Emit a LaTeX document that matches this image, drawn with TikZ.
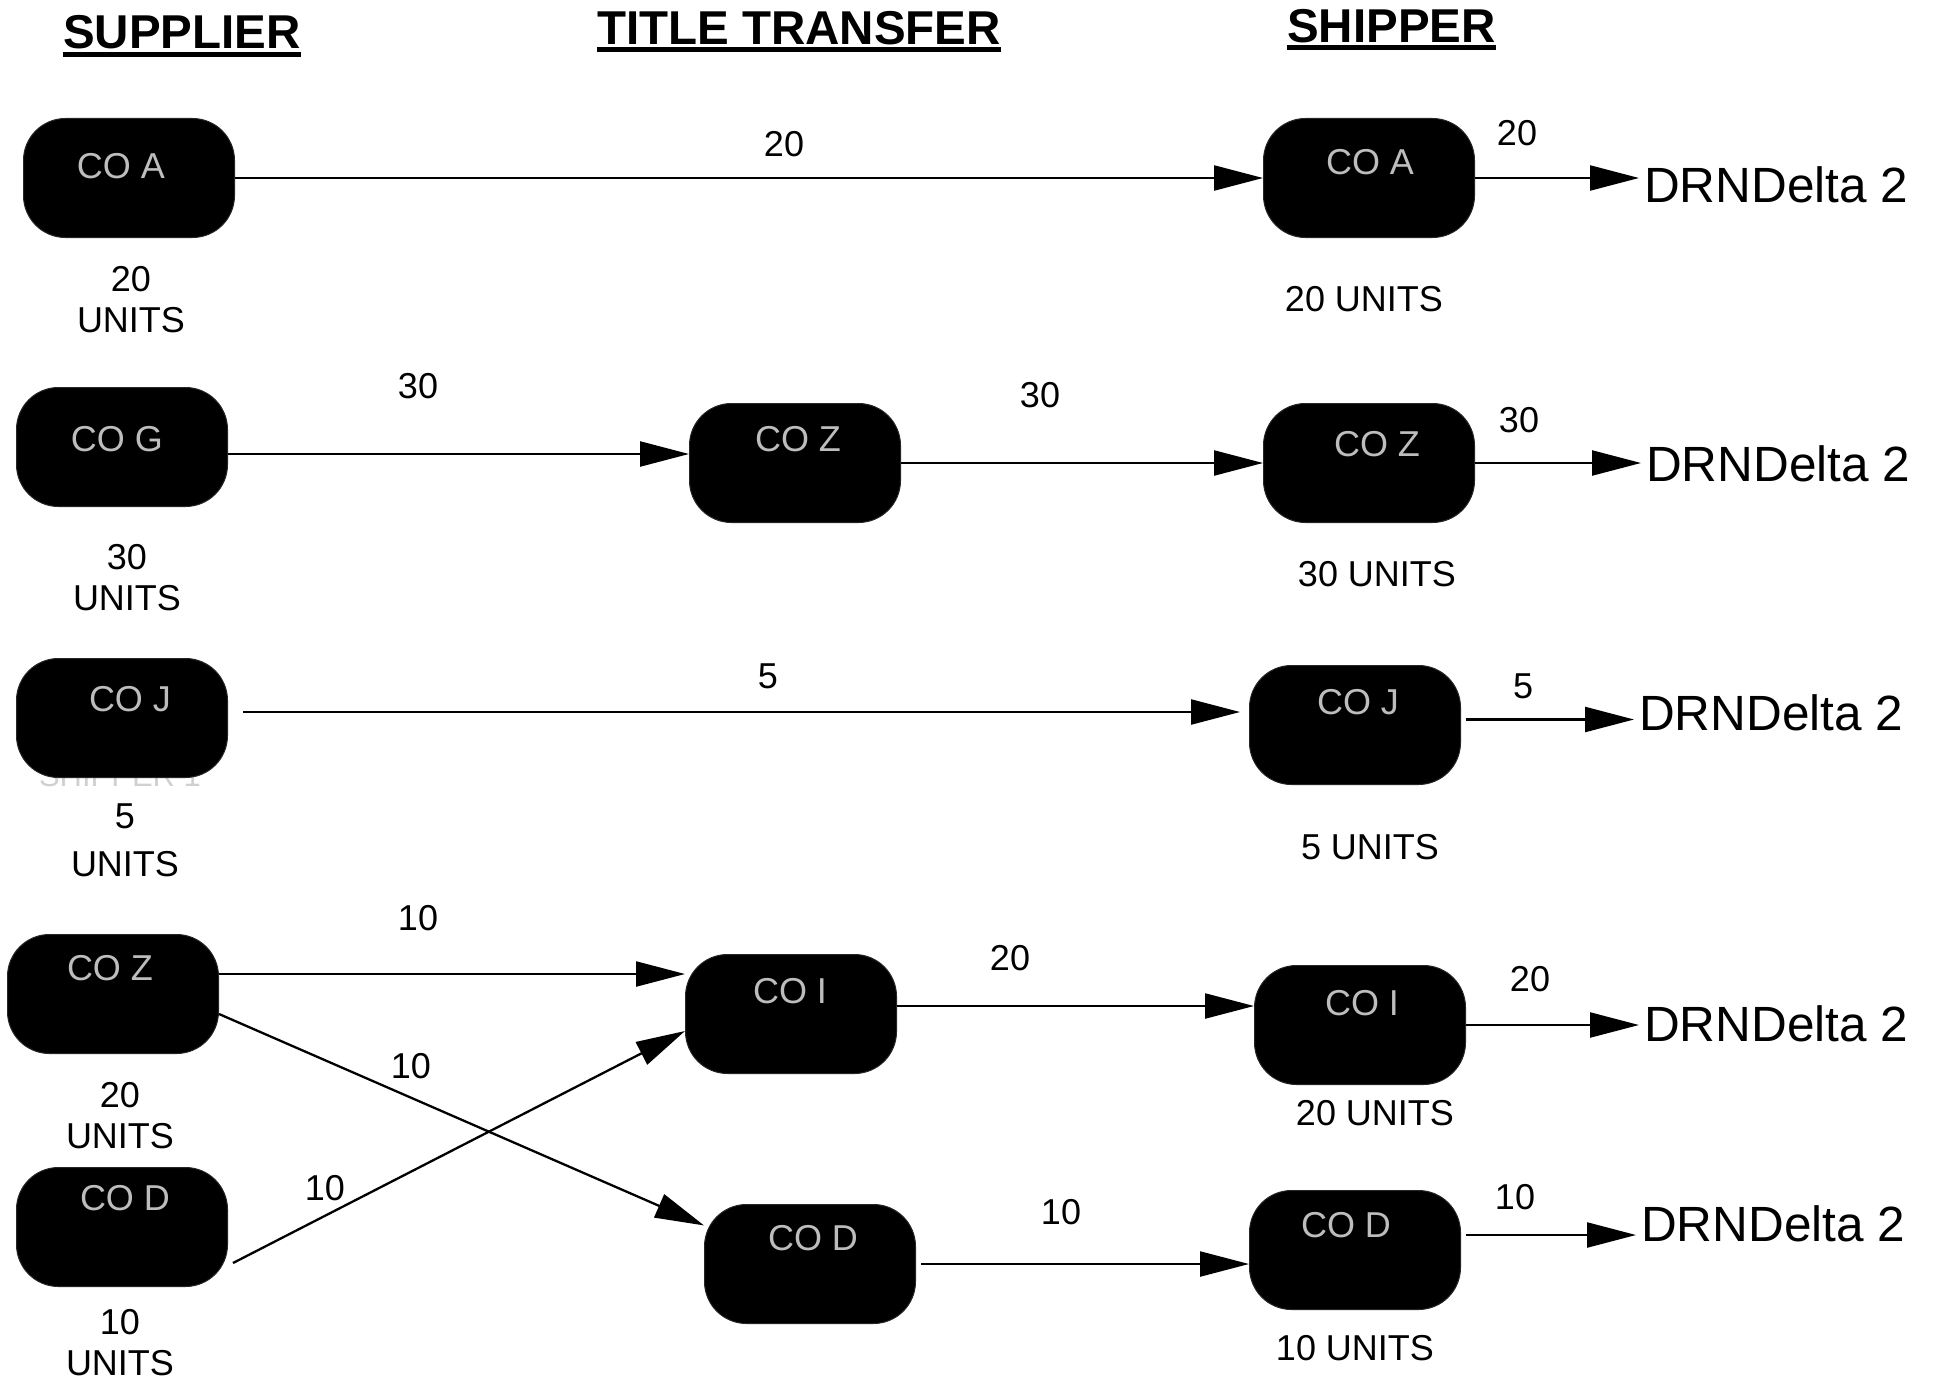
\documentclass[tikz,border=0pt]{standalone}
\usepackage{fontspec}
\setmainfont{Liberation Sans}
\usetikzlibrary{arrows.meta}
\definecolor{BoxText}{HTML}{BDBDBD}
\definecolor{Ghost}{HTML}{D0D0D0}

\begin{document}
\begin{tikzpicture}[x=1pt,y=-1pt,
  cobox/.style={rounded corners=42pt,fill=black,draw=black!85,line width=1pt,
   minimum width=211pt,minimum height=119pt,inner sep=0pt},
  cotext/.style={text=BoxText,inner sep=0pt,font=\fontsize{36}{41}\selectfont},
  qty/.style={inner sep=0pt,font=\fontsize{36}{41}\selectfont},
  units/.style={inner sep=0pt,align=center,font=\fontsize{36}{41}\selectfont},
  drn/.style={anchor=west,inner xsep=5pt,inner ysep=0pt,font=\fontsize{49.5}{59}\selectfont},
  head/.style={anchor=base west,inner sep=0pt,font=\fontsize{47.5}{57}\selectfont\bfseries},
  uline/.style={line width=5pt},
  flow/.style={line width=2.3pt,-{Triangle[length=49pt,width=25pt]}}]
  \useasboundingbox (0,0) rectangle (1935,1378);

  % column headings
  \node[head] (hSup) at (63,49) {SUPPLIER};
  \node[head] (hTit) at (597,45) {TITLE TRANSFER};
  \node[head] (hShp) at (1287,43) {SHIPPER};
  \draw[uline] ([yshift=-6pt]hSup.base west) -- ([yshift=-6pt]hSup.base east);
  \draw[uline] ([yshift=-5pt]hTit.base west) -- ([yshift=-5pt]hTit.base east);
  \draw[uline] ([yshift=-5pt]hShp.base west) -- ([yshift=-5pt]hShp.base east);

  % faint text behind CO J
  \node[inner sep=0pt,text=Ghost,font=\fontsize{31}{37}\selectfont] (ghost) at (120,776) {SHIPPER 1};

  % supplier
  \node[cobox] (sA) at (129,178) {};
  \node[cobox] (sG) at (122,447) {};
  \node[cobox] (sJ) at (122,718) {};
  \node[cobox] (sZ) at (113,994) {};
  \node[cobox] (sD) at (122,1227) {};
  \node[cotext] (sAt) at (121,166) {CO A};
  \node[cotext] (sGt) at (117,439) {CO G};
  \node[cotext] (sJt) at (130,699) {CO J};
  \node[cotext] (sZt) at (110,968) {CO Z};
  \node[cotext] (sDt) at (125,1198) {CO D};
  \node[units] (sAu) at (131,300) {20\\UNITS};
  \node[units] (sGu) at (127,578) {30\\UNITS};
  \node[units] (sJu) at (125,840) {5\\[7pt]UNITS};
  \node[units] (sZu) at (120,1116) {20\\UNITS};
  \node[units] (sDu) at (120,1343) {10\\UNITS};

  % title transfer
  \node[cobox] (tZ) at (795,463) {};
  \node[cobox] (tI) at (791,1014) {};
  \node[cobox] (tD) at (810,1264) {};
  \node[cotext] (tZt) at (798,439) {CO Z};
  \node[cotext] (tIt) at (790,991) {CO I};
  \node[cotext] (tDt) at (813,1238) {CO D};

  % shipper
  \node[cobox] (pA) at (1369,178) {};
  \node[cobox] (pZ) at (1369,463) {};
  \node[cobox] (pJ) at (1355,725) {};
  \node[cobox] (pI) at (1360,1025) {};
  \node[cobox] (pD) at (1355,1250) {};
  \node[cotext] (pAt) at (1370,162) {CO A};
  \node[cotext] (pZt) at (1377,444) {CO Z};
  \node[cotext] (pJt) at (1358,702) {CO J};
  \node[cotext] (pIt) at (1362,1003) {CO I};
  \node[cotext] (pDt) at (1346,1225) {CO D};
  \node[qty] (pAu) at (1364,299) {20 UNITS};
  \node[qty] (pZu) at (1377,574) {30 UNITS};
  \node[qty] (pJu) at (1370,847) {5 UNITS};
  \node[qty] (pIu) at (1375,1113) {20 UNITS};
  \node[qty] (pDu) at (1355,1348) {10 UNITS};

  % delivery points
  \node[drn] (dA) at (1639,185) {DRNDelta 2};
  \node[drn] (dZ) at (1641,464) {DRNDelta 2};
  \node[drn] (dJ) at (1634,713) {DRNDelta 2};
  \node[drn] (dI) at (1639,1024) {DRNDelta 2};
  \node[drn] (dD) at (1636,1224) {DRNDelta 2};

  % flows
  \coordinate (sGo) at ([yshift=-7pt]sG.east);
  \coordinate (sJo) at ([xshift=15pt,yshift=6pt]sJ.east);
  \coordinate (pJo) at ([xshift=5pt,yshift=5.5pt]pJ.east);
  \coordinate (sZo) at ([yshift=20pt]sZ.east);
  \coordinate (sZx) at ([yshift=-20pt]sZ.east);
  \coordinate (sDx) at ([xshift=5pt,yshift=-36pt]sD.east);
  \coordinate (tIo) at ([yshift=8pt]tI.east);
  \coordinate (tDo) at ([xshift=5pt]tD.east);
  \coordinate (pDo) at ([xshift=5pt,yshift=15pt]pD.east);
  \draw[flow] (sA.east) -- (pA.west);
  \draw[flow] (pA.east) -- (pA.east -| dA.west);
  \draw[flow] (sGo) -- (sGo -| tZ.west);
  \draw[flow] (tZ.east) -- (tZ.east -| pZ.west);
  \draw[flow] (pZ.east) -- (pZ.east -| dZ.west);
  \draw[flow,shorten >=9pt] (sJo) -- (sJo -| pJ.west);
  \draw[flow] (pJo) -- (pJo -| dJ.west);
  \draw[flow] (sZo) -- (sZo -| tI.west);
  \draw[flow] (sZx) -- (tD.160);
  \draw[flow] (sDx) -- ([yshift=-17pt]tI.west);
  \draw[flow] (tIo) -- (tIo -| pI.west);
  \draw[flow] (pI.east) -- (pI.east -| dI.west);
  \draw[flow] (tDo) -- (tDo -| pD.west);
  \draw[flow] (pDo) -- (pDo -| dD.west);

  % flow quantities
  \node[qty] (qA1) at (784,144) {20};
  \node[qty] (qA2) at (1517,133) {20};
  \node[qty] (qG1) at (418,386) {30};
  \node[qty] (qZ1) at (1040,395) {30};
  \node[qty] (qZ2) at (1519,420) {30};
  \node[qty] (qJ1) at (768,676) {5};
  \node[qty] (qJ2) at (1523,686) {5};
  \node[qty] (qZI) at (418,918) {10};
  \node[qty] (qZD) at (411,1066) {10};
  \node[qty] (qDI) at (325,1188) {10};
  \node[qty] (qI1) at (1010,958) {20};
  \node[qty] (qI2) at (1530,979) {20};
  \node[qty] (qD1) at (1061,1212) {10};
  \node[qty] (qD2) at (1515,1197) {10};
\end{tikzpicture}
\end{document}
